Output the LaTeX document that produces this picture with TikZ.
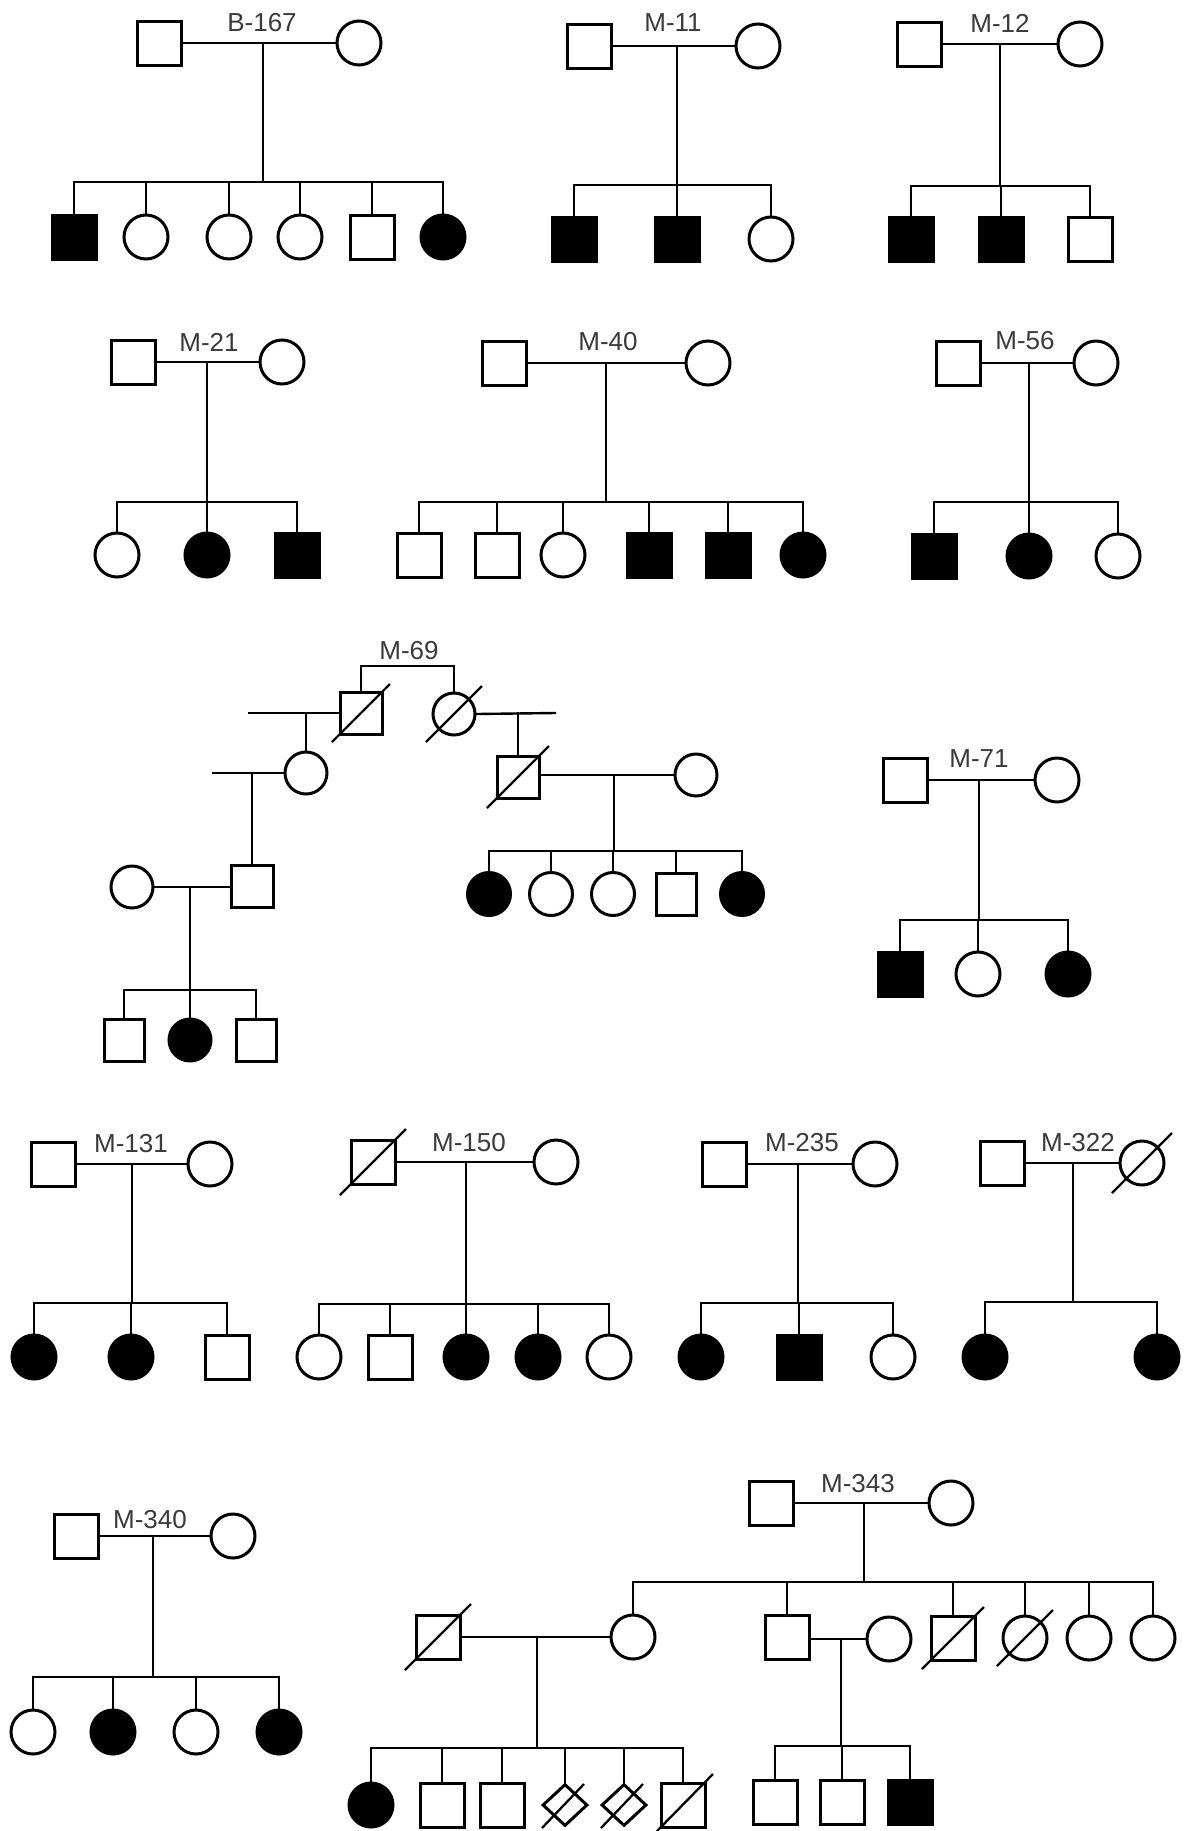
\documentclass[tikz,border=0pt]{standalone}
\usepackage{fontspec}
\setmainfont{Liberation Sans}
\usetikzlibrary{shapes.geometric}
\definecolor{labelgray}{HTML}{3A3A3A}
\tikzset{
  person/.style={draw, line width=3pt, inner sep=0pt, fill=white},
  male/.style={person, rectangle, minimum width=44pt, minimum height=44pt},
  female/.style={person, circle, minimum size=44pt},
  unknown/.style={person, diamond, minimum width=45pt, minimum height=42pt},
  affected/.style={fill=black},
  link/.style={line width=2.4pt, line cap=rect},
  deadline/.style={line width=2.3pt},
  famlabel/.style={text=labelgray, inner sep=0pt, font=\fontsize{26}{28}\selectfont},
}
% slash through a deceased individual
\newcommand\markdeceased[2][30]{\draw[deadline] ([shift={(-#1,#1)}]#2.center) -- ([shift={(#1,-#1)}]#2.center);}
% descent line, sibship line and the drop to every child
% #1 point on the marriage line, #2 sibship junction, #3 first child, #4 last child, #5 all children
\newcommand\sibship[5]{%
  \draw[link] (#1) -- (#2);
  \draw[link] (#3.north |- #2) -- (#4.north |- #2);
  \foreach \kid in {#5} {\draw[link] (\kid.north) -- (\kid.north |- #2);}
}
\begin{document}
\begin{tikzpicture}[x=1pt, y=-1pt]
\fill[white] (0,0) rectangle (1189,1831);
\useasboundingbox (0,0) rectangle (1189,1831);

%% ---------------- B-167
\node[famlabel] (b167lab) at (262,23) {B-167};
\node[male] (b167f) at (159,43) {};
\node[female] (b167m) at (359,43) {};
\draw[link] (b167f.east) -- (b167m.west);
\coordinate (b167d) at (263,43);
\coordinate (b167s) at (263,182);
\node[male,affected] (b167k1) at (74,237) {};
\node[female] (b167k2) at (146,237) {};
\node[female] (b167k3) at (229,237) {};
\node[female] (b167k4) at (300,237) {};
\node[male] (b167k5) at (372,237) {};
\node[female,affected] (b167k6) at (443,237) {};
\sibship{b167d}{b167s}{b167k1}{b167k6}{b167k1,b167k2,b167k3,b167k4,b167k5,b167k6}

%% ---------------- M-11
\node[famlabel] (m11lab) at (673,23) {M-11};
\node[male] (m11f) at (589,46) {};
\node[female] (m11m) at (758,46) {};
\draw[link] (m11f.east) -- (m11m.west);
\coordinate (m11d) at (677,46);
\coordinate (m11s) at (677,185);
\node[male,affected] (m11k1) at (574,239) {};
\node[male,affected] (m11k2) at (677,239) {};
\node[female] (m11k3) at (771,239) {};
\sibship{m11d}{m11s}{m11k1}{m11k3}{m11k1,m11k2,m11k3}

%% ---------------- M-12
\node[famlabel] (m12lab) at (1000,23) {M-12};
\node[male] (m12f) at (919,44) {};
\node[female] (m12m) at (1080,44) {};
\draw[link] (m12f.east) -- (m12m.west);
\coordinate (m12d) at (1000,44);
\coordinate (m12s) at (1000,186);
\node[male,affected] (m12k1) at (911,239) {};
\node[male,affected] (m12k2) at (1001,239) {};
\node[male] (m12k3) at (1090,239) {};
\sibship{m12d}{m12s}{m12k1}{m12k3}{m12k1,m12k2,m12k3}

%% ---------------- M-21
\node[famlabel] (m21lab) at (209,342) {M-21};
\node[male] (m21f) at (133,362) {};
\node[female] (m21m) at (282,362) {};
\draw[link] (m21f.east) -- (m21m.west);
\coordinate (m21d) at (207,362);
\coordinate (m21s) at (207,502);
\node[female] (m21k1) at (117,555) {};
\node[female,affected] (m21k2) at (207,555) {};
\node[male,affected] (m21k3) at (297,555) {};
\sibship{m21d}{m21s}{m21k1}{m21k3}{m21k1,m21k2,m21k3}

%% ---------------- M-40
\node[famlabel] (m40lab) at (608,342) {M-40};
\node[male] (m40f) at (504,363) {};
\node[female] (m40m) at (708,363) {};
\draw[link] (m40f.east) -- (m40m.west);
\coordinate (m40d) at (606,363);
\coordinate (m40s) at (606,502);
\node[male] (m40k1) at (419,555) {};
\node[male] (m40k2) at (497,555) {};
\node[female] (m40k3) at (563,555) {};
\node[male,affected] (m40k4) at (649,555) {};
\node[male,affected] (m40k5) at (728,555) {};
\node[female,affected] (m40k6) at (803,555) {};
\sibship{m40d}{m40s}{m40k1}{m40k6}{m40k1,m40k2,m40k3,m40k4,m40k5,m40k6}

%% ---------------- M-56
\node[famlabel] (m56lab) at (1025,341) {M-56};
\node[male] (m56f) at (958,363) {};
\node[female] (m56m) at (1096,363) {};
\draw[link] (m56f.east) -- (m56m.west);
\coordinate (m56d) at (1029,363);
\coordinate (m56s) at (1029,502);
\node[male,affected] (m56k1) at (934,556) {};
\node[female,affected] (m56k2) at (1029,556) {};
\node[female] (m56k3) at (1118,556) {};
\sibship{m56d}{m56s}{m56k1}{m56k3}{m56k1,m56k2,m56k3}

%% ---------------- M-69
\node[famlabel] (m69lab) at (409,651) {M-69};
\node[male, minimum width=42pt, minimum height=42pt] (m69f) at (361,713) {};
\node[female, minimum size=42pt] (m69m) at (454,714) {};
\markdeceased[29]{m69f}
\markdeceased[28]{m69m}
\coordinate (m69top) at (407,666);
\draw[link] (m69f.north) |- (m69top) -| (m69m.north);
% his other union
\coordinate (m69hl) at (249,713);
\draw[link] (m69hl) -- (m69f.west);
\coordinate (m69hd) at (306,713);
\node[female, minimum size=42pt] (m69dau) at (306,773) {};
\draw[link] (m69hd) -- (m69dau.north);
\coordinate (m69dl) at (213,773);
\draw[link] (m69dl) -- (m69dau.west);
\coordinate (m69dd) at (252,773);
\node[male, minimum width=42pt, minimum height=42pt] (m69gs) at (252,886) {};
\draw[link] (m69dd) -- (m69gs.north);
\node[female, minimum size=42pt] (m69gsw) at (132,887) {};
\draw[link] (m69gsw.east) -- (m69gs.west |- m69gsw.east);
\coordinate (m69gd) at (190,887);
\coordinate (m69gsib) at (190,990);
\node[male, minimum width=40pt, minimum height=42pt] (m69g1) at (124,1040) {};
\node[female,affected, minimum width=40pt, minimum height=42pt] (m69g2) at (190,1040) {};
\node[male, minimum width=40pt, minimum height=42pt] (m69g3) at (256,1040) {};
\sibship{m69gd}{m69gsib}{m69g1}{m69g3}{m69g1,m69g2,m69g3}
% her other union
\coordinate (m69hr) at (555,713);
\draw[link] (m69m.east) -- (m69hr);
\coordinate (m69rd) at (518,713);
\node[male, minimum width=42pt, minimum height=42pt] (m69son) at (518,777) {};
\markdeceased[31]{m69son}
\draw[link] (m69rd) -- (m69son.north);
\node[female, minimum width=40pt, minimum height=42pt] (m69sw) at (696,775) {};
\draw[link] (m69son.east |- m69sw.west) -- (m69sw.west);
\coordinate (m69sd) at (614,775);
\coordinate (m69ssib) at (614,851);
\node[female,affected, minimum width=42pt, minimum height=43pt] (m69s1) at (489,894) {};
\node[female, minimum width=41pt, minimum height=43pt] (m69s2) at (551,894) {};
\node[female, minimum width=41pt, minimum height=43pt] (m69s3) at (613,894) {};
\node[male, minimum width=40pt, minimum height=42pt] (m69s4) at (676,894) {};
\node[female,affected, minimum width=41pt, minimum height=43pt] (m69s5) at (742,894) {};
\sibship{m69sd}{m69ssib}{m69s1}{m69s5}{m69s1,m69s2,m69s3,m69s4,m69s5}

%% ---------------- M-71
\node[famlabel] (m71lab) at (979,759) {M-71};
\node[male] (m71f) at (905,780) {};
\node[female] (m71m) at (1057,780) {};
\draw[link] (m71f.east) -- (m71m.west);
\coordinate (m71d) at (979,780);
\coordinate (m71s) at (979,920);
\node[male,affected] (m71k1) at (900,974) {};
\node[female] (m71k2) at (978,974) {};
\node[female,affected] (m71k3) at (1068,974) {};
\sibship{m71d}{m71s}{m71k1}{m71k3}{m71k1,m71k2,m71k3}

%% ---------------- M-131
\node[famlabel] (m131lab) at (131,1144) {M-131};
\node[male] (m131f) at (53,1164) {};
\node[female] (m131m) at (210,1164) {};
\draw[link] (m131f.east) -- (m131m.west);
\coordinate (m131d) at (132,1164);
\coordinate (m131s) at (132,1303);
\node[female,affected] (m131k1) at (34,1357) {};
\node[female,affected] (m131k2) at (131,1357) {};
\node[male] (m131k3) at (227,1357) {};
\sibship{m131d}{m131s}{m131k1}{m131k3}{m131k1,m131k2,m131k3}

%% ---------------- M-150
\node[famlabel] (m150lab) at (469,1143) {M-150};
\node[male] (m150f) at (373,1162) {};
\markdeceased[33]{m150f}
\node[female] (m150m) at (556,1162) {};
\draw[link] (m150f.east) -- (m150m.west);
\coordinate (m150d) at (466,1162);
\coordinate (m150s) at (466,1304);
\node[female] (m150k1) at (319,1357) {};
\node[male] (m150k2) at (390,1357) {};
\node[female,affected] (m150k3) at (466,1357) {};
\node[female,affected] (m150k4) at (538,1357) {};
\node[female] (m150k5) at (609,1357) {};
\sibship{m150d}{m150s}{m150k1}{m150k5}{m150k1,m150k2,m150k3,m150k4,m150k5}

%% ---------------- M-235
\node[famlabel] (m235lab) at (802,1143) {M-235};
\node[male] (m235f) at (724,1164) {};
\node[female] (m235m) at (875,1164) {};
\draw[link] (m235f.east) -- (m235m.west);
\coordinate (m235d) at (798,1164);
\coordinate (m235s) at (798,1303);
\node[female,affected] (m235k1) at (701,1357) {};
\node[male,affected] (m235k2) at (799,1357) {};
\node[female] (m235k3) at (893,1357) {};
\sibship{m235d}{m235s}{m235k1}{m235k3}{m235k1,m235k2,m235k3}

%% ---------------- M-322
\node[famlabel] (m322lab) at (1078,1143) {M-322};
\node[male] (m322f) at (1002,1163) {};
\node[female] (m322m) at (1142,1163) {};
\markdeceased[30]{m322m}
\draw[link] (m322f.east) -- (m322m.west);
\coordinate (m322d) at (1073,1163);
\coordinate (m322s) at (1073,1302);
\node[female,affected] (m322k1) at (985,1357) {};
\node[female,affected] (m322k2) at (1157,1357) {};
\sibship{m322d}{m322s}{m322k1}{m322k2}{m322k1,m322k2}

%% ---------------- M-340
\node[famlabel] (m340lab) at (150,1520) {M-340};
\node[male] (m340f) at (76,1536) {};
\node[female] (m340m) at (233,1536) {};
\draw[link] (m340f.east) -- (m340m.west);
\coordinate (m340d) at (153,1536);
\coordinate (m340s) at (153,1677);
\node[female] (m340k1) at (33,1732) {};
\node[female,affected] (m340k2) at (113,1732) {};
\node[female] (m340k3) at (196,1732) {};
\node[female,affected] (m340k4) at (279,1732) {};
\sibship{m340d}{m340s}{m340k1}{m340k4}{m340k1,m340k2,m340k3,m340k4}

%% ---------------- M-343
\node[famlabel] (m343lab) at (858,1484) {M-343};
\node[male] (m343f) at (771,1503) {};
\node[female] (m343m) at (951,1503) {};
\draw[link] (m343f.east) -- (m343m.west);
\coordinate (m343d) at (864,1503);
\coordinate (m343s) at (864,1582);
\node[female] (m343k1) at (633,1637) {};
\node[male] (m343k2) at (787,1637) {};
\node[male] (m343k3) at (953,1638) {};
\markdeceased[31]{m343k3}
\node[female] (m343k4) at (1025,1638) {};
\markdeceased[28]{m343k4}
\node[female] (m343k5) at (1089,1638) {};
\node[female] (m343k6) at (1153,1638) {};
\sibship{m343d}{m343s}{m343k1}{m343k6}{m343k1,m343k2,m343k3,m343k4,m343k5,m343k6}
% first daughter's family
\node[male] (m343h1) at (438,1637) {};
\markdeceased[33]{m343h1}
\draw[link] (m343h1.east) -- (m343k1.west);
\coordinate (m343ad) at (537,1637);
\coordinate (m343as) at (537,1748);
\node[female,affected] (m343a1) at (371,1805) {};
\node[male] (m343a2) at (442,1805) {};
\node[male] (m343a3) at (502,1805) {};
\node[unknown] (m343a4) at (565,1805) {};
\draw[deadline] ([shift={(-23,23)}]m343a4.center) -- ([shift={(19,-21)}]m343a4.center);
\node[unknown] (m343a5) at (624,1805) {};
\draw[deadline] ([shift={(-23,23)}]m343a5.center) -- ([shift={(19,-21)}]m343a5.center);
\node[male] (m343a6) at (683,1805) {};
\draw[deadline] ([shift={(-26,26)}]m343a6.center) -- ([shift={(30,-31)}]m343a6.center);
\sibship{m343ad}{m343as}{m343a1}{m343a6}{m343a1,m343a2,m343a3,m343a4,m343a5,m343a6}
% first son's family
\node[female] (m343w2) at (889,1639) {};
\draw[link] (m343k2.east |- m343w2.west) -- (m343w2.west);
\coordinate (m343bd) at (841,1639);
\coordinate (m343bs) at (841,1746);
\node[male] (m343b1) at (775,1802) {};
\node[male] (m343b2) at (842,1802) {};
\node[male,affected] (m343b3) at (910,1802) {};
\sibship{m343bd}{m343bs}{m343b1}{m343b3}{m343b1,m343b2,m343b3}

\end{tikzpicture}
\end{document}
